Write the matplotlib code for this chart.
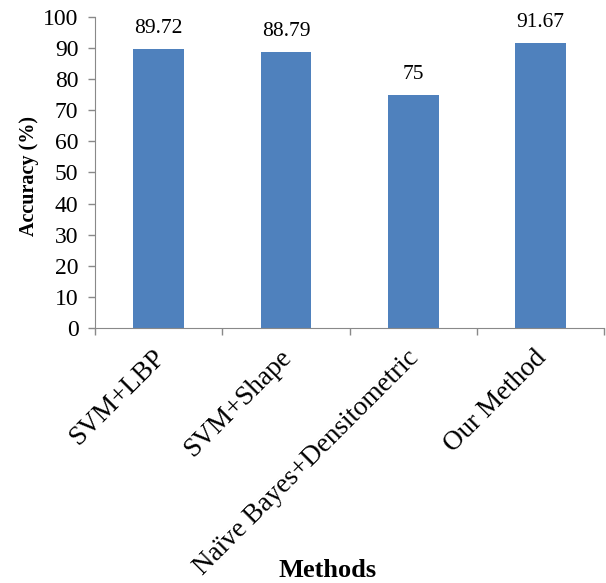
import matplotlib
matplotlib.use('Agg')
import matplotlib.pyplot as plt
import matplotlib.transforms as mtransforms
import numpy as np

# chart data
methods = ['SVM+LBP', 'SVM+Shape', 'Naïve Bayes+Densitometric', 'Our Method']
accuracy = [89.72, 88.79, 75, 91.67]
value_labels = ['89.72', '88.79', '75', '91.67']
yticks = [0, 10, 20, 30, 40, 50, 60, 70, 80, 90, 100]

plt.rcParams['font.family'] = ['Liberation Serif', 'DejaVu Serif']
grey = '#898989'

fig = plt.figure(figsize=(6.06, 5.83), dpi=100)
ax = fig.add_axes([0.157, 0.4374, 0.84, 0.5336])

x = np.arange(len(methods))
ax.bar(x, accuracy, width=0.40, color='#4F81BD')

# value labels above bars
for xi, val, lab in zip(x, accuracy, value_labels):
    ax.annotate(lab, (xi, val), xytext=(0, 8), textcoords='offset points',
                ha='center', va='bottom', fontsize=15.5)

ax.set_xlim(-0.5, len(methods) - 0.5)
ax.set_ylim(0, 100)
ax.set_yticks(yticks)
ax.tick_params(axis='y', labelsize=17, color=grey, length=5, width=1, pad=7)

# category boundary ticks
ax.set_xticks(np.arange(-0.5, len(methods)), minor=False)
ax.set_xticklabels([])
ax.tick_params(axis='x', color=grey, length=5, width=1)
ax.set_xticks(x, minor=True)
ax.set_xticklabels(methods, minor=True, rotation=45, ha='right', va='top',
                   rotation_mode='anchor', fontsize=19.5)
ax.tick_params(axis='x', which='minor', length=0, pad=12.5)
# nudge rotated labels a little to the left
shift = mtransforms.ScaledTranslation(-5 / 72, 0, fig.dpi_scale_trans)
for lbl in ax.get_xticklabels(minor=True):
    lbl.set_transform(lbl.get_transform() + shift)

for s in ['top', 'right']:
    ax.spines[s].set_visible(False)
for s in ['left', 'bottom']:
    ax.spines[s].set_color(grey)

ax.set_ylabel('Accuracy (%)', fontsize=14.5, fontweight='bold')
ax.yaxis.set_label_coords(-0.11, 0.489)
fig.text(0.541, 0.022, 'Methods', ha='center', va='center',
         fontsize=19, fontweight='bold')

fig.savefig('out.png', dpi=100)
